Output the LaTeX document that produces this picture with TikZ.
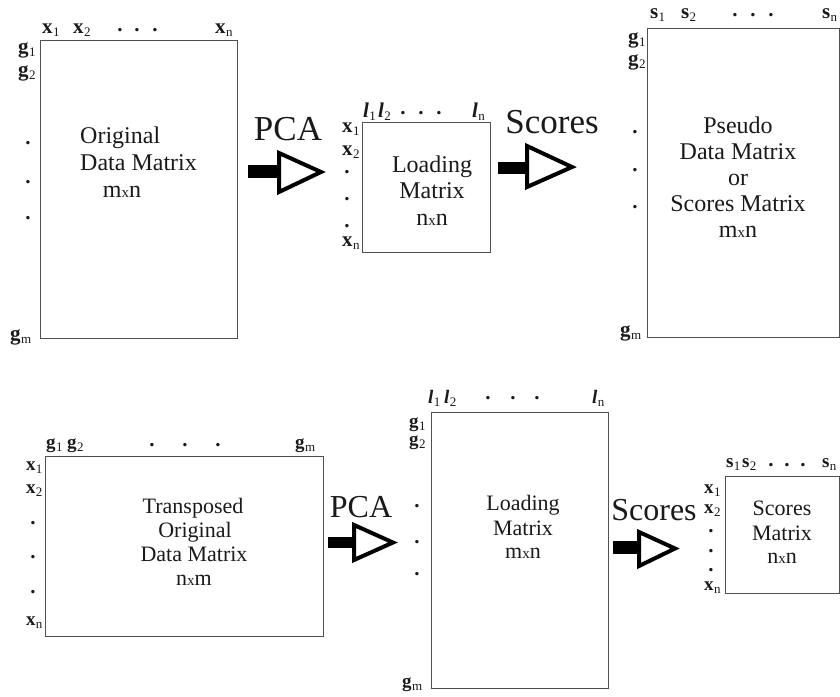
\documentclass[tikz,border=0pt]{standalone}
\usepackage{fontspec}
\setmainfont{Liberation Serif}
\definecolor{ink}{HTML}{1A1A1A}
\definecolor{boxline}{HTML}{505050}
% bold symbol with a plain, lowered index
\newcommand\subfont{\fontsize{13}{13}\selectfont}
\newcommand\lb[2]{\textbf{#1}\kern0.3pt\raisebox{-3pt}{\subfont #2}}
\newcommand\lv[1]{\textbf{\textit{l}}\kern0.3pt\raisebox{-3pt}{\subfont #1}}
% matrix order such as m x n, with a small x
\newcommand\ord[2]{#1{\fontsize{15}{15}\selectfont x}#2}
\begin{document}
\begin{tikzpicture}[x=1pt,y=-1pt,
  lab/.style={font=\fontsize{21}{21}\selectfont, inner sep=0, anchor=base west, text=ink},
  labsm/.style={lab, font=\fontsize{19}{19}\selectfont},
  dotmark/.style={font=\fontsize{21}{21}\selectfont\bfseries, inner sep=0, anchor=center, text=ink},
  mbox/.style={draw=boxline, line width=1.3pt, rectangle, inner sep=0, anchor=north west},
  body/.style={font=\fontsize{24}{24}\selectfont, inner sep=0, anchor=base, text=ink},
  bodysm/.style={body, font=\fontsize{22}{22}\selectfont},
  big/.style={font=\fontsize{35}{35}\selectfont, inner sep=0, anchor=base, text=ink},
  bigsm/.style={big, font=\fontsize{32}{32}\selectfont},
  bar/.style={fill=black},
  head/.style={draw=black, line width=4pt, fill=white, line join=miter}]

\fill[white] (0,0) rectangle (840,696);
\useasboundingbox (0,0) rectangle (840,696);

% ---------------- top row ----------------
% original data matrix
\node[mbox, minimum width=197pt, minimum height=298pt] (orig) at (40,40) {};
\node[lab] (o-x1) at (42,33) {\lb{x}{1}};
\node[lab] (o-x2) at (73,33) {\lb{x}{2}};
\node[dotmark] (o-d1) at (120,30) {.};
\node[dotmark] (o-d2) at (137,30) {.};
\node[dotmark] (o-d3) at (155,30) {.};
\node[lab] (o-xn) at (215,33) {\lb{x}{n}};
\node[lab] (o-g1) at (18,53) {\lb{g}{1}};
\node[lab] (o-g2) at (18,76) {\lb{g}{2}};
\node[dotmark] (o-v1) at (28,143) {.};
\node[dotmark] (o-v2) at (28,182) {.};
\node[dotmark] (o-v3) at (28,218) {.};
\node[lab] (o-gm) at (10,340) {\lb{g}{m}};
\node[body, anchor=base west] (o-t1) at (80,143) {Original};
\node[body, anchor=base west] (o-t2) at (80,170) {Data Matrix};
\node[body] (o-t3) at (122,197) {\ord{m}{n}};

% PCA step
\node[big] (pca1) at (288,140) {PCA};
\fill[bar] (248,165) rectangle (279,178);
\draw[head] (279,153) -- (321,172) -- (279,192) -- cycle;

% loading matrix n x n
\node[mbox, minimum width=128pt, minimum height=130pt] (load1) at (362,122) {};
\node[lab] (l-l1) at (363,117) {\lv{1}};
\node[lab] (l-l2) at (378,117) {\lv{2}};
\node[dotmark] (l-d1) at (403,113) {.};
\node[dotmark] (l-d2) at (421,113) {.};
\node[dotmark] (l-d3) at (439,113) {.};
\node[lab] (l-ln) at (472,117) {\lv{n}};
\node[lab] (l-x1) at (342,132) {\lb{x}{1}};
\node[lab] (l-x2) at (342,155) {\lb{x}{2}};
\node[dotmark] (l-v1) at (347,172) {.};
\node[dotmark] (l-v2) at (347,199) {.};
\node[dotmark] (l-v3) at (347,226) {.};
\node[lab] (l-xn) at (342,246) {\lb{x}{n}};
\node[body] (l-t1) at (432,172) {Loading};
\node[body] (l-t2) at (432,198) {Matrix};
\node[body] (l-t3) at (432,225) {\ord{n}{n}};

% scores step
\node[big] (sc1) at (552,133) {Scores};
\fill[bar] (498,162) rectangle (527,174);
\draw[head] (527,146) -- (572,167) -- (527,187) -- cycle;

% pseudo data / scores matrix
\node[mbox, minimum width=191.5pt, minimum height=309pt] (pseudo) at (647,28) {};
\node[lab] (p-s1) at (650,18) {\lb{s}{1}};
\node[lab] (p-s2) at (681,18) {\lb{s}{2}};
\node[dotmark] (p-d1) at (735,15) {.};
\node[dotmark] (p-d2) at (753,15) {.};
\node[dotmark] (p-d3) at (771,15) {.};
\node[lab] (p-sn) at (822,18) {\lb{s}{n}};
\node[lab] (p-g1) at (628,43) {\lb{g}{1}};
\node[lab] (p-g2) at (628,65) {\lb{g}{2}};
\node[dotmark] (p-v1) at (635,132) {.};
\node[dotmark] (p-v2) at (635,170) {.};
\node[dotmark] (p-v3) at (635,207) {.};
\node[lab] (p-gm) at (620,336) {\lb{g}{m}};
\node[body] (p-t1) at (738,133) {Pseudo};
\node[body] (p-t2) at (738,159) {Data Matrix};
\node[body] (p-t3) at (738,185) {or};
\node[body] (p-t4) at (738,211) {Scores Matrix};
\node[body] (p-t5) at (738,237) {\ord{m}{n}};

% ---------------- bottom row ----------------
% transposed data matrix
\node[mbox, minimum width=278pt, minimum height=180pt] (trans) at (45,456) {};
\node[labsm] (t-g1) at (46,448) {\lb{g}{1}};
\node[labsm] (t-g2) at (67,448) {\lb{g}{2}};
\node[dotmark] (t-d1) at (152,445) {.};
\node[dotmark] (t-d2) at (185,445) {.};
\node[dotmark] (t-d3) at (218,445) {.};
\node[labsm] (t-gm) at (295,448) {\lb{g}{m}};
\node[labsm] (t-x1) at (26,470) {\lb{x}{1}};
\node[labsm] (t-x2) at (26,493) {\lb{x}{2}};
\node[dotmark] (t-v1) at (33,523) {.};
\node[dotmark] (t-v2) at (33,557) {.};
\node[dotmark] (t-v3) at (33,592) {.};
\node[labsm] (t-xn) at (26,625) {\lb{x}{n}};
\node[bodysm] (t-t1) at (193,513) {Transposed};
\node[bodysm] (t-t2) at (195,537) {Original};
\node[bodysm] (t-t3) at (194,561) {Data Matrix};
\node[bodysm] (t-t4) at (194,585) {\ord{n}{m}};

% PCA step
\node[bigsm] (pca2) at (361,517) {PCA};
\fill[bar] (328,537) rectangle (354,548);
\draw[head] (354,525) -- (393,542.5) -- (354,560) -- cycle;

% loading matrix m x n
\node[mbox, minimum width=177pt, minimum height=276pt] (load2) at (431,412) {};
\node[labsm] (k-l1) at (428,403) {\lv{1}};
\node[labsm] (k-l2) at (444,403) {\lv{2}};
\node[dotmark] (k-d1) at (488,398) {.};
\node[dotmark] (k-d2) at (513,398) {.};
\node[dotmark] (k-d3) at (537,398) {.};
\node[labsm] (k-ln) at (592,403) {\lv{n}};
\node[labsm] (k-g1) at (409,427) {\lb{g}{1}};
\node[labsm] (k-g2) at (409,445) {\lb{g}{2}};
\node[dotmark] (k-v1) at (417,506) {.};
\node[dotmark] (k-v2) at (417,542) {.};
\node[dotmark] (k-v3) at (417,574) {.};
\node[labsm] (k-gm) at (402,687) {\lb{g}{m}};
\node[bodysm] (k-t1) at (523,510) {Loading};
\node[bodysm] (k-t2) at (523,535) {Matrix};
\node[bodysm] (k-t3) at (523,558) {\ord{m}{n}};

% scores step
\node[bigsm] (sc2) at (654,520) {Scores};
\fill[bar] (613,541) rectangle (639,554);
\draw[head] (639,532) -- (675,548.5) -- (639,566) -- cycle;

% scores matrix n x n
\node[mbox, minimum width=113.5pt, minimum height=117pt] (scores) at (725,476) {};
\node[labsm] (s-s1) at (726,467) {\lb{s}{1}};
\node[labsm] (s-s2) at (742,467) {\lb{s}{2}};
\node[dotmark] (s-d1) at (771,465) {.};
\node[dotmark] (s-d2) at (787,465) {.};
\node[dotmark] (s-d3) at (803,465) {.};
\node[labsm] (s-sn) at (822,467) {\lb{s}{n}};
\node[labsm] (s-x1) at (704,493) {\lb{x}{1}};
\node[labsm] (s-x2) at (704,513) {\lb{x}{2}};
\node[dotmark] (s-v1) at (711,531) {.};
\node[dotmark] (s-v2) at (711,551) {.};
\node[dotmark] (s-v3) at (711,570) {.};
\node[labsm] (s-xn) at (704,590) {\lb{x}{n}};
\node[bodysm] (s-t1) at (782,515) {Scores};
\node[bodysm] (s-t2) at (782,540) {Matrix};
\node[bodysm] (s-t3) at (782,563) {\ord{n}{n}};
\end{tikzpicture}
\end{document}
